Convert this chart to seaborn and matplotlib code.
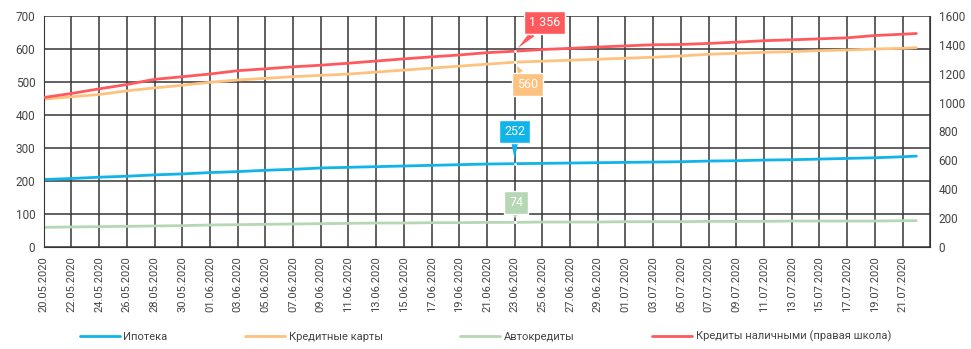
import pandas as pd
import matplotlib
matplotlib.use("Agg")
import matplotlib.pyplot as plt
import seaborn as sns

# dates: every second day from 20.05.2020 to 21.07.2020, plus the last observation
dates = list(pd.date_range("2020-05-20", "2020-07-21", freq="2D")) + [pd.Timestamp("2020-07-22")]

mortgage = [204, 207, 211, 214, 218, 221, 225, 228, 232, 235, 239,
            241, 243, 245, 247, 249, 251, 252, 253, 254, 255, 256, 257,
            258, 260, 261, 263, 264, 266, 268, 270, 273, 275]
cards = [448, 455, 462, 473, 482, 490, 499, 506, 511, 516, 520,
         524, 530, 536, 542, 548, 554, 560, 563, 566, 569, 572, 575,
         579, 584, 587, 590, 592, 595, 597, 600, 602, 604]
auto = [59, 60, 61, 62, 63, 64, 66, 67, 68, 69, 70,
        71, 72, 72, 73, 73, 74, 74, 75, 75, 75, 76, 76,
        76, 77, 77, 77, 78, 78, 78, 78, 79, 79]
cash = [1035, 1063, 1095, 1125, 1161, 1179, 1198, 1221, 1234, 1248, 1259,
        1273, 1288, 1303, 1317, 1330, 1346, 1356, 1368, 1376, 1385, 1393, 1401,
        1403, 1410, 1419, 1429, 1435, 1442, 1449, 1465, 1474, 1479]

labels = ["Ипотека", "Кредитные карты", "Автокредиты", "Кредиты наличными (правая школа)"]
colors = ["#10b4ea", "#fdc27f", "#b6d7b3", "#fe5a5e"]
callout_date = pd.Timestamp("2020-06-23")
callout_text = ["252", "560", "74", "1 356"]

df = pd.DataFrame({"date": dates, "mortgage": mortgage, "cards": cards,
                   "auto": auto, "cash": cash})

sns.set_style("white")
plt.rcParams["font.family"] = ["Roboto", "DejaVu Sans"]

fig, ax = plt.subplots(figsize=(9.71, 3.49), dpi=100)
fig.subplots_adjust(left=0.045, right=0.958, top=0.954, bottom=0.293)
ax2 = ax.twinx()

lw = 2.0
sns.lineplot(data=df, x="date", y="mortgage", ax=ax, color=colors[0], lw=lw, label=labels[0], legend=False)
sns.lineplot(data=df, x="date", y="cards", ax=ax, color=colors[1], lw=lw, label=labels[1], legend=False)
sns.lineplot(data=df, x="date", y="auto", ax=ax, color=colors[2], lw=lw, label=labels[2], legend=False)
sns.lineplot(data=df, x="date", y="cash", ax=ax2, color=colors[3], lw=lw, label=labels[3], legend=False)

ticks = pd.date_range("2020-05-20", "2020-07-23", freq="2D")
ax.set_xlim(ticks[0], ticks[-1])
ax.set_ylim(0, 700)
ax2.set_ylim(0, 1600)
ax.set_yticks(range(0, 701, 100))
ax2.set_yticks(range(0, 1601, 200))
ax2.set_yticklabels([f"{v}" for v in range(0, 1601, 200)])
ax.set_xticks(ticks)
ax.set_xticklabels([d.strftime("%d.%m.%Y") if d <= pd.Timestamp("2020-07-21") else "" for d in ticks],
                   rotation=90)
ax.set_xlabel("")
ax.set_ylabel("")
ax2.set_ylabel("")

grid_c = "#363636"
ax.grid(True, axis="both", color=grid_c, lw=1.1)
ax.set_axisbelow(True)
for a in (ax, ax2):
    for s in a.spines.values():
        s.set_visible(False)
ax.spines["left"].set_visible(True)
ax.spines["left"].set_color(grid_c)
ax.spines["bottom"].set_visible(True)
ax.spines["bottom"].set_color(grid_c)
ax2.spines["right"].set_visible(True)
ax2.spines["right"].set_color(grid_c)

ax.tick_params(axis="x", length=4, color=grid_c, labelsize=8, labelcolor="#444444", pad=3)
ax.tick_params(axis="y", length=0, labelsize=8.5, labelcolor="#444444", pad=6)
ax2.tick_params(axis="y", length=0, labelsize=8.5, labelcolor="#444444", pad=6)

# callouts at 23.06.2020
idx = dates.index(callout_date)
series = [(ax, mortgage), (ax, cards), (ax, auto), (ax2, cash)]
offsets = [(0, 23), (9, -16), (1, 14.5), (21.5, 21)]
for (a, vals), col, txt, off in zip(series, colors, callout_text, offsets):
    a.plot([callout_date], [vals[idx]], "o", color="white", ms=2, mew=0, zorder=5)
    a.annotate(txt, xy=(callout_date, vals[idx]), xytext=off, textcoords="offset points",
               ha="center", va="center", color="white", fontsize=9, zorder=6,
               bbox=dict(boxstyle="square,pad=0.4", fc=col, ec="white", lw=1),
               arrowprops=dict(arrowstyle="wedge,tail_width=0.5,shrink_factor=0.5",
                               fc=col, ec="none", shrinkA=0, shrinkB=3))

h1, l1 = ax.get_legend_handles_labels()
h2, l2 = ax2.get_legend_handles_labels()
fig.legend(h1 + h2, l1 + l2, loc="lower center", bbox_to_anchor=(0.5, -0.01), ncol=4,
           frameon=False, fontsize=8, labelcolor="#444444", handlelength=3.6,
           handletextpad=0.3, columnspacing=7.0)

plt.savefig("out.png", dpi=100)
